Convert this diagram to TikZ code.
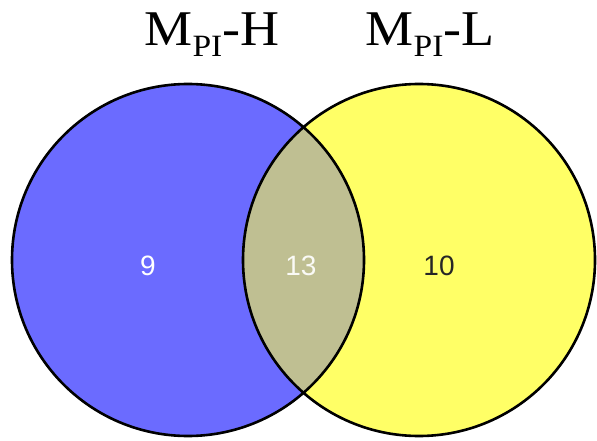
\documentclass[tikz,border=0pt]{standalone}
\usepackage{fontspec}
\setmainfont{Liberation Serif}
\newfontfamily\setfont[FakeStretch=1.08]{Liberation Serif}
\newfontfamily\numfont{Liberation Sans}
\definecolor{setblue}{RGB}{107,107,255}
\definecolor{setyellow}{RGB}{255,255,102}
\definecolor{setboth}{RGB}{191,191,146}
\newcommand{\setname}[1]{M\raisebox{-0.22em}{\fontsize{31}{32}\selectfont PI}-#1}
\tikzset{
  setlabel/.style={inner sep=0pt, anchor=base, font=\setfont\fontsize{50}{52}\selectfont},
  count/.style={inner sep=0pt, font=\numfont\fontsize{28}{29}\selectfont}
}
\begin{document}
\begin{tikzpicture}[x=1pt,y=-1pt]
\useasboundingbox (0,0) rectangle (597,441);
\coordinate (high) at (188,260);
\coordinate (low) at (419,260);

\fill[setblue] (high) circle (176pt);
\fill[setyellow] (low) circle (176pt);
\begin{scope}
\clip (high) circle (176pt);
\fill[setboth] (low) circle (176pt);
\end{scope}
\draw[line width=2.6pt] (high) circle (176pt);
\draw[line width=2.6pt] (low) circle (176pt);

\node[setlabel] (highname) at (212,46) {\setname{H}};
\node[setlabel] (lowname) at (430,46) {\setname{L}};

\node[count, text=white] (onlyhigh) at (148,266) {9};
\node[count, text=white!92!setboth] (both) at (301,266) {13};
\node[count, text=black!85] (onlylow) at (439,266) {10};
\end{tikzpicture}
\end{document}
